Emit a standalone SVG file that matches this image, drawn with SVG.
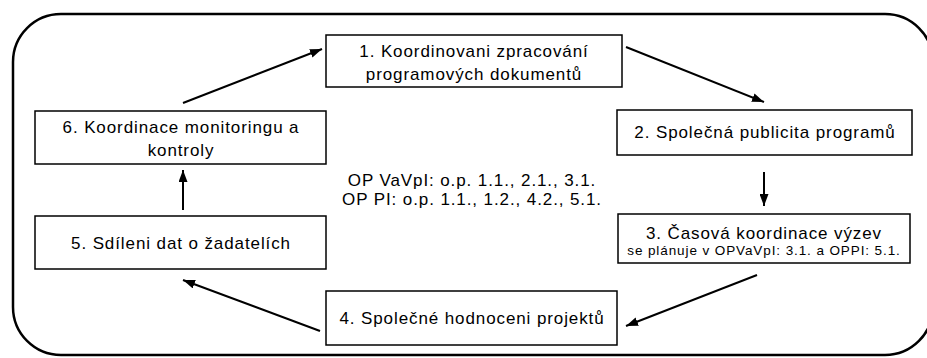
<svg xmlns="http://www.w3.org/2000/svg" width="927" height="358" viewBox="0 0 927 358">
<defs>
<marker id="ah" markerWidth="12" markerHeight="9" refX="12" refY="4.5" orient="auto" markerUnits="userSpaceOnUse">
<path d="M0,0 L12,4.5 L0,9 z" fill="#000"/>
</marker>
<style>
.box{fill:#fff;stroke:#000;stroke-width:1.5}
.t{font-family:"Liberation Sans",Arial,sans-serif;font-size:17px;letter-spacing:0.9px;fill:#000;text-anchor:middle}
.s{font-size:13.5px}
.c{font-size:17px;letter-spacing:0.9px}
.con{stroke:#000;stroke-width:2;fill:none;marker-end:url(#ah)}
</style>
</defs>
<rect width="927" height="358" fill="#fff"/>
<rect id="frame" x="13" y="14" width="920" height="341" rx="48" ry="48" fill="none" stroke="#000" stroke-width="2.5"/>
<g id="n1"><rect class="box" x="326" y="35" width="296" height="52"/>
<text class="t" x="474" y="57">1. Koordinovani zpracování</text>
<text class="t" x="474" y="80">programových dokumentů</text></g>
<g id="n2"><rect class="box" x="617" y="110" width="295" height="45"/>
<text class="t" x="765" y="138">2. Společná publicita programů</text></g>
<g id="n3"><rect class="box" x="618" y="214" width="292" height="49"/>
<text class="t" x="764" y="239">3. Časová koordinace výzev</text>
<text class="t s" x="764" y="255">se plánuje v OPVaVpI: 3.1. a OPPI: 5.1.</text></g>
<g id="n4"><rect class="box" x="326" y="291" width="291" height="54"/>
<text class="t" x="472" y="324">4. Společné hodnoceni projektů</text></g>
<g id="n5"><rect class="box" x="35" y="216" width="291" height="53"/>
<text class="t" x="181" y="249">5. Sdíleni dat o žadatelích</text></g>
<g id="n6"><rect class="box" x="35" y="111" width="291" height="53"/>
<text class="t" x="181" y="133">6. Koordinace monitoringu a</text>
<text class="t" x="181" y="156">kontroly</text></g>
<g id="note">
<text class="t c" x="472" y="186">OP VaVpI: o.p. 1.1., 2.1., 3.1.</text>
<text class="t c" x="472" y="205">OP PI: o.p. 1.1., 1.2., 4.2., 5.1.</text>
</g>
<g id="connectors">
<line class="con" x1="183" y1="103" x2="322" y2="49"/>
<line class="con" x1="626" y1="47" x2="764" y2="102"/>
<line class="con" x1="764" y1="172" x2="764" y2="206"/>
<line class="con" x1="757" y1="275" x2="626" y2="326"/>
<line class="con" x1="320" y1="331" x2="183" y2="280"/>
<line class="con" x1="183" y1="210" x2="183" y2="170"/>
</g>
</svg>
